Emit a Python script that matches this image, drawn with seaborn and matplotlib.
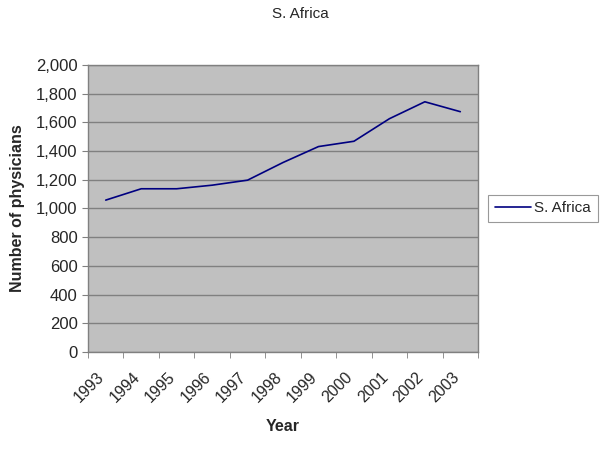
import numpy as np
import pandas as pd
import matplotlib
matplotlib.use('Agg')
import matplotlib.pyplot as plt
import matplotlib.transforms as mtransforms
import seaborn as sns
from matplotlib.ticker import FuncFormatter, FixedLocator

# Data
years = ['1993', '1994', '1995', '1996', '1997', '1998', '1999', '2000', '2001', '2002', '2003']
physicians = [1058, 1137, 1137, 1162, 1197, 1320, 1431, 1468, 1625, 1743, 1674]

df = pd.DataFrame({'Year': years, 'Physicians': physicians})

sns.set_style('white')
plt.rcParams['font.family'] = ['Liberation Sans', 'DejaVu Sans']

fig = plt.figure(figsize=(6, 4.5), dpi=100)
ax = fig.add_axes([0.1467, 0.2178, 0.65, 0.638])
ax.set_facecolor('#c0c0c0')

sns.lineplot(data=df, x='Year', y='Physicians', ax=ax, color='#000080',
             linewidth=1.2, label='S. Africa', sort=False)

# axes look (Excel style)
ax.set_xlim(-0.5, len(years) - 0.5)
ax.set_ylim(0, 2000)
ax.set_yticks(np.arange(0, 2001, 200))
ax.yaxis.set_major_formatter(FuncFormatter(lambda v, p: f'{int(v):,}'))
ax.grid(axis='y', color='#808080', linewidth=1)
ax.set_axisbelow(True)
for s in ax.spines.values():
    s.set_color('#808080')
    s.set_linewidth(1)

ax.set_xticks(range(len(years)))
ax.set_xticklabels(years, rotation=45, ha='right', rotation_mode='anchor')
ax.xaxis.set_minor_locator(FixedLocator(np.arange(-0.5, len(years), 1)))
ax.tick_params(axis='x', which='major', length=0, pad=12, labelsize=11.5)
ax.tick_params(axis='x', which='minor', length=4, color='#808080', direction='out', bottom=True)
ax.tick_params(axis='y', length=4, color='#808080', direction='out', left=True, labelsize=12)

# nudge year labels a bit to the left, like Excel places them
shift = mtransforms.ScaledTranslation(-0.09, -0.01, fig.dpi_scale_trans)
for lbl in ax.get_xticklabels():
    lbl.set_transform(lbl.get_transform() + shift)

ax.set_xlabel('Year', fontsize=11.5, fontweight='bold', labelpad=10)
ax.set_ylabel('Number of physicians', fontsize=11.5, fontweight='bold', labelpad=8)

fig.suptitle('S. Africa', x=0.5, y=0.985, fontsize=11)

leg = ax.legend(loc='center left', bbox_to_anchor=(1.025, 0.5), frameon=True,
                fancybox=False, fontsize=11, handlelength=2.4, handletextpad=0.2,
                borderpad=0.45, borderaxespad=0)
leg.get_frame().set_edgecolor('#808080')
leg.get_frame().set_linewidth(0.8)

fig.savefig('out.png', dpi=100)
